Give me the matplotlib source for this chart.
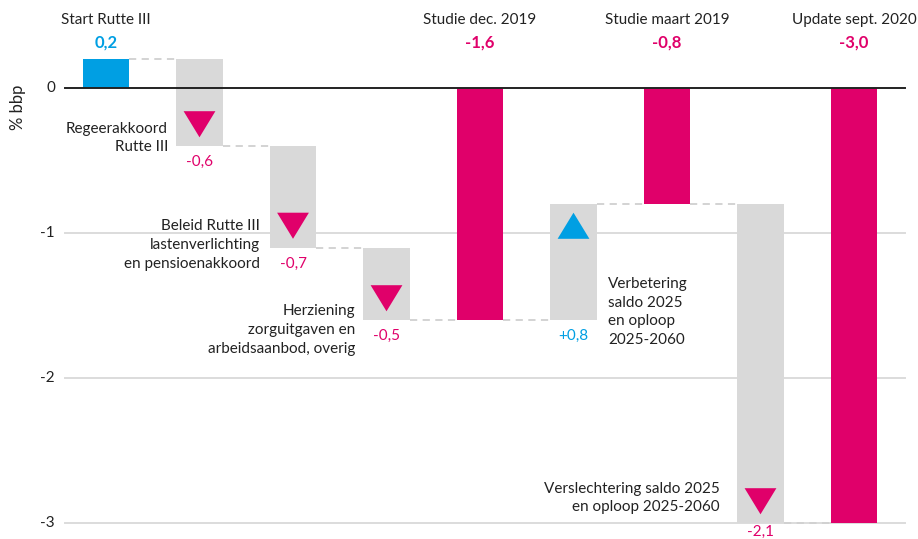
import matplotlib.pyplot as plt
from matplotlib.patches import Polygon

plt.rcParams['font.family'] = ['Lato', 'DejaVu Sans']

# waterfall data (% bbp)
names = ["Start Rutte III", "Regeerakkoord\nRutte III",
         "Beleid Rutte III\nlastenverlichting\nen pensioenakkoord",
         "Herziening\nzorguitgaven en\narbeidsaanbod, overig",
         "Studie dec. 2019", "Verbetering\nsaldo 2025\nen oploop\n2025-2060",
         "Studie maart 2019", "Verslechtering saldo 2025\nen oploop 2025-2060",
         "Update sept. 2020"]
kinds = ["start", "down", "down", "down", "total", "up", "total", "down", "total"]
values = [0.2, -0.6, -0.7, -0.5, -1.6, 0.8, -0.8, -2.2, -3.0]
value_labels = ["0,2", "-0,6", "-0,7", "-0,5", "-1,6", "+0,8", "-0,8", "-2,1", "-3,0"]
yticks = [0, -1, -2, -3]
ytick_labels = ["0", "-1", "-2", "-3"]

BLUE = "#009fe3"
PINK = "#e0006a"
GREY = "#d9d9d9"
TXT = "#222222"

fig = plt.figure(figsize=(9.18, 5.39), dpi=100)
ax = fig.add_axes([0, 0, 1, 1])
ax.set_axis_off()
# 93.5 px per bar step, first bar centre at 106 px; 145 px per unit, zero at 88 px
ax.set_xlim(-106 / 93.5, (918 - 106) / 93.5)
ax.set_ylim(-(539 - 88) / 145, 88 / 145)

xl, xr = 65 / 918, 905 / 918
for t in yticks[1:]:
    ax.axhline(t, xmin=xl, xmax=xr, color="#dcdcdc", lw=1.4, zorder=0)
ax.axhline(0, xmin=xl, xmax=xr, color="#222222", lw=1.4, zorder=3)
for t, lab in zip(yticks, ytick_labels):
    ax.text(55 / 918, t, lab, transform=ax.get_yaxis_transform(),
            ha="right", va="center", fontsize=11, color=TXT)
ax.text(18 / 918, (88 - 107) / 145, "% bbp", transform=ax.get_yaxis_transform(),
        rotation=90, ha="center", va="center", fontsize=12, color=TXT)

w = 0.5
level = 0.0
bars = []
for i, (k, v) in enumerate(zip(kinds, values)):
    if k == "start":
        lo, hi, col = 0, v, BLUE
        level = v
    elif k == "total":
        lo, hi, col = 0, v, PINK
        level = v
    else:
        lo, hi, col = level, level + v, GREY
        level = level + v
    ax.bar(i, hi - lo, bottom=lo, width=w, color=col, zorder=2)
    bars.append((lo, hi))

# dashed connectors
for i in range(len(bars) - 1):
    lvl = bars[i][1]
    ax.plot([i + w / 2, i + 1 - w / 2], [lvl, lvl], color="#d0d0d0",
            lw=1.3, ls=(0, (4, 3)), zorder=1)

# triangles inside the delta bars
tw, th, off = 0.17, 0.09, 0.15
for i, k in enumerate(kinds):
    lo, hi = bars[i]
    if k == "down":
        c = hi + off
        pts = [(i - tw, c + th), (i + tw, c + th), (i, c - th)]
        ax.add_patch(Polygon(pts, closed=True, color=PINK, zorder=4, lw=0))
    elif k == "up":
        c = hi - off
        pts = [(i - tw, c - th), (i + tw, c - th), (i, c + th)]
        ax.add_patch(Polygon(pts, closed=True, color=BLUE, zorder=4, lw=0))

def py(p):
    return (88 - p) / 145

def px(p):
    return (p - 106) / 93.5

fs = 11
ls = 1.45
# headers above start / totals
for i in [0, 4, 6, 8]:
    col = BLUE if kinds[i] == "start" else PINK
    ax.text(i, py(20), names[i], ha="center", va="center", fontsize=fs, color=TXT)
    ax.text(i, py(43), value_labels[i], ha="center", va="center", fontsize=12,
            fontweight="bold", color=col)

# delta labels
ax.text(px(168), py(138), names[1], ha="right", va="center", fontsize=fs,
        color=TXT, linespacing=ls)
ax.text(px(260), py(245), names[2], ha="right", va="center", fontsize=fs,
        color=TXT, linespacing=ls)
ax.text(px(355), py(330), names[3], ha="right", va="center", fontsize=fs,
        color=TXT, linespacing=ls)
ax.text(px(608), py(312), names[5], ha="left", va="center", fontsize=fs,
        color=TXT, linespacing=ls)
ax.text(px(720), py(498), names[7], ha="right", va="center", fontsize=fs,
        color=TXT, linespacing=ls)

for i, k in enumerate(kinds):
    if k in ("down", "up"):
        col = BLUE if k == "up" else PINK
        y = min(bars[i]) - 0.11
        if i == 7:
            y = min(bars[i]) - 0.06
        ax.text(i, y, value_labels[i], ha="center", va="center", fontsize=fs, color=col)

fig.savefig("out.png", dpi=100)
